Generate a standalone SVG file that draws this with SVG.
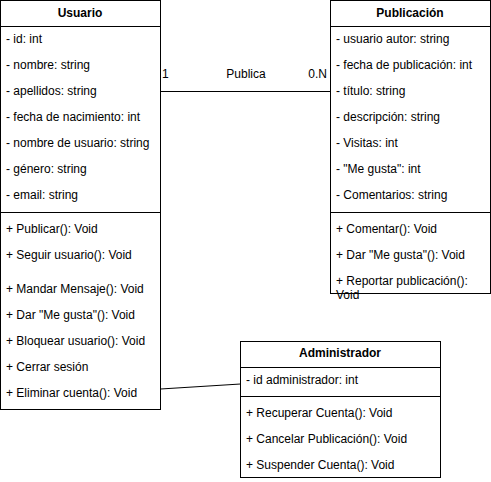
<svg xmlns="http://www.w3.org/2000/svg" width="491" height="482" viewBox="0 0 491 482">
<style>
.box{fill:#fff;stroke:#000;stroke-width:1}
.ln{stroke:#000;stroke-width:1;fill:none}
text{font-family:"Liberation Sans",Arial,sans-serif;font-size:12px;fill:#000}
.h{font-weight:bold;text-anchor:middle}
</style>
<rect width="491" height="482" fill="#fff"/>
<g id="connectors">
<path class="ln" d="M160.5 91.5 H330.5"/>
<text x="162" y="78">1</text>
<text x="246" y="78" text-anchor="middle">Publica</text>
<text x="327" y="78" text-anchor="end">0.N</text>
<path class="ln" d="M160.5 389 L240.5 384"/>
</g>
<g id="usuario">
<rect class="box" x="0.5" y="0.5" width="160" height="409"/>
<path class="ln" d="M0.5 26.5 H160.5 M0.5 212.5 H160.5"/>
<text class="h" x="80" y="17">Usuario</text>
<text x="6" y="43">- id: int</text>
<text x="6" y="69">- nombre: string</text>
<text x="6" y="95">- apellidos: string</text>
<text x="6" y="121">- fecha de nacimiento: int</text>
<text x="6" y="147">- nombre de usuario: string</text>
<text x="6" y="173">- género: string</text>
<text x="6" y="199">- email: string</text>
<text x="6" y="233">+ Publicar(): Void</text>
<text x="6" y="259">+ Seguir usuario(): Void</text>
<text x="6" y="293">+ Mandar Mensaje(): Void</text>
<text x="6" y="319">+ Dar "Me gusta"(): Void</text>
<text x="6" y="345">+ Bloquear usuario(): Void</text>
<text x="6" y="371">+ Cerrar sesión</text>
<text x="6" y="397">+ Eliminar cuenta(): Void</text>
</g>
<g id="publicacion">
<rect class="box" x="330.5" y="0.5" width="160" height="293"/>
<path class="ln" d="M330.5 26.5 H490.5 M330.5 212.5 H490.5"/>
<text class="h" x="410" y="17">Publicación</text>
<text x="336" y="43">- usuario autor: string</text>
<text x="336" y="69">- fecha de publicación: int</text>
<text x="336" y="95">- título: string</text>
<text x="336" y="121">- descripción: string</text>
<text x="336" y="147">- Visitas: int</text>
<text x="336" y="173">- "Me gusta": int</text>
<text x="336" y="199">- Comentarios: string</text>
<text x="336" y="233">+ Comentar(): Void</text>
<text x="336" y="259">+ Dar "Me gusta"(): Void</text>
<text x="336" y="285">+ Reportar publicación():</text>
<text x="336" y="299">Void</text>
</g>
<g id="administrador">
<rect class="box" x="240.5" y="341.5" width="200" height="136"/>
<path class="ln" d="M240.5 367.5 H440.5 M240.5 396.5 H440.5"/>
<text class="h" x="340" y="357">Administrador</text>
<text x="246" y="384">- id administrador: int</text>
<text x="246" y="417">+ Recuperar Cuenta(): Void</text>
<text x="246" y="443">+ Cancelar Publicación(): Void</text>
<text x="246" y="469">+ Suspender Cuenta(): Void</text>
</g>
</svg>
